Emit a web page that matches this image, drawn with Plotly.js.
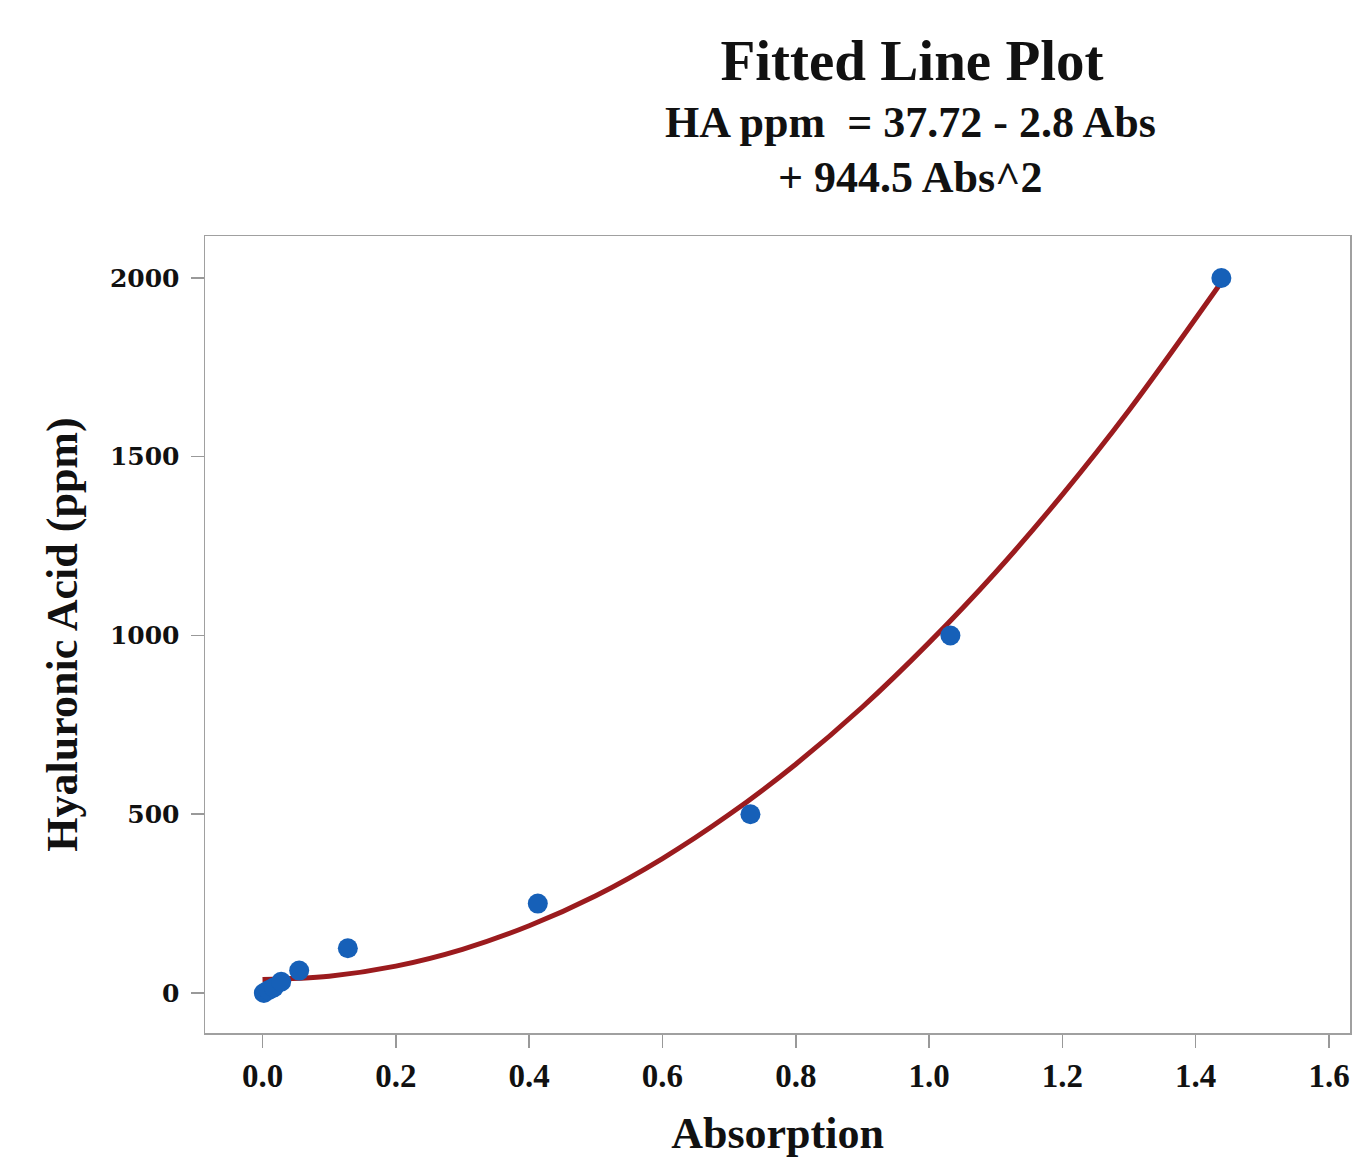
<!DOCTYPE html>
<html>
<head>
<meta charset="utf-8">
<script src="https://cdn.plot.ly/plotly-3.0.1.min.js"></script>
<style>html,body{margin:0;padding:0;background:#fff;}#chart{width:1352px;height:1165px;}</style>
</head>
<body>
<div id="chart"></div>
<script>
// Observed data (Absorption vs Hyaluronic Acid ppm)
const absorption = [0.002, 0.009, 0.017, 0.028, 0.055, 0.128, 0.413, 0.732, 1.032, 1.4385];
const haPpm = [0, 7.8, 15.6, 31.25, 62.5, 125, 250, 500, 1000, 2000];

// Fitted line
const fitX = [0.0, 0.1, 0.2, 0.3, 0.4, 0.5, 0.6, 0.7, 0.8, 0.9, 1.0, 1.1, 1.2, 1.3, 1.4385];
const fitY = [38, 47, 75, 122, 188, 272, 376, 499, 640, 800, 980, 1177, 1394, 1630, 1988];

const xTicks = [0, 0.2, 0.4, 0.6, 0.8, 1.0, 1.2, 1.4, 1.6];
const xTickLabels = ["0.0", "0.2", "0.4", "0.6", "0.8", "1.0", "1.2", "1.4", "1.6"];
const yTicks = [0, 500, 1000, 1500, 2000];
const yTickLabels = ["0", "500", "1000", "1500", "2000"];

const titleText = "Fitted Line Plot";
const eqLine1 = "HA ppm  = 37.72 - 2.8 Abs";
const eqLine2 = "+ 944.5 Abs^2";

const serif = "Liberation Serif, Times New Roman, serif";

const traces = [
  {
    x: fitX, y: fitY, type: "scatter", mode: "lines",
    line: {color: "#9b1b1e", width: 5, shape: "spline"},
    hoverinfo: "skip", showlegend: false
  },
  {
    x: absorption, y: haPpm, type: "scatter", mode: "markers",
    marker: {color: "#1660b8", size: 20}, showlegend: false
  }
];

const layout = {
  width: 1352, height: 1165,
  paper_bgcolor: "#ffffff", plot_bgcolor: "#ffffff",
  margin: {l: 205, r: 2, t: 236, b: 132, pad: 0},
  showlegend: false,
  title: {
    text: titleText,
    font: {family: serif, size: 57, color: "#111", weight: "bold"},
    x: 912 / 1352, xanchor: "center", xref: "container",
    y: 1 - 60 / 1165, yanchor: "middle", yref: "container"
  },
  annotations: [
    {text: eqLine1, xref: "paper", yref: "paper", x: (911 - 205) / 1145, y: (1033 - 122) / 797,
     xanchor: "center", yanchor: "middle", showarrow: false,
     font: {family: serif, size: 44, color: "#111", weight: "bold"}},
    {text: eqLine2, xref: "paper", yref: "paper", x: (911 - 205) / 1145, y: (1033 - 177) / 797,
     xanchor: "center", yanchor: "middle", showarrow: false,
     font: {family: serif, size: 44, color: "#111", weight: "bold"}}
  ],
  xaxis: {
    range: [-0.0863, 1.6315],
    tickmode: "array", tickvals: xTicks, ticktext: xTickLabels,
    ticks: "outside", ticklen: 13, tickwidth: 1.5, tickcolor: "#999",
    showline: true, mirror: true, linecolor: "#a0a0a0", linewidth: 1.5,
    showgrid: false, zeroline: false,
    tickfont: {family: serif, size: 33, color: "#111", weight: "bold"},
    ticklabelstandoff: 0,
    title: {text: "Absorption", font: {family: serif, size: 44, color: "#111", weight: "bold"}, standoff: 24}
  },
  yaxis: {
    range: [-112, 2117.5],
    tickmode: "array", tickvals: yTicks, ticktext: yTickLabels,
    ticks: "outside", ticklen: 13, tickwidth: 1.5, tickcolor: "#999",
    showline: true, mirror: true, linecolor: "#a0a0a0", linewidth: 1.5,
    showgrid: false, zeroline: false,
    tickfont: {family: "DejaVu Serif, serif", size: 25, color: "#111", weight: "bold"},
    ticklabelstandoff: 6,
    title: {text: "Hyaluronic Acid (ppm)", font: {family: serif, size: 44, color: "#111", weight: "bold"}, standoff: 18}
  }
};

Plotly.newPlot("chart", traces, layout, {displayModeBar: false, staticPlot: true});
</script>
</body>
</html>
